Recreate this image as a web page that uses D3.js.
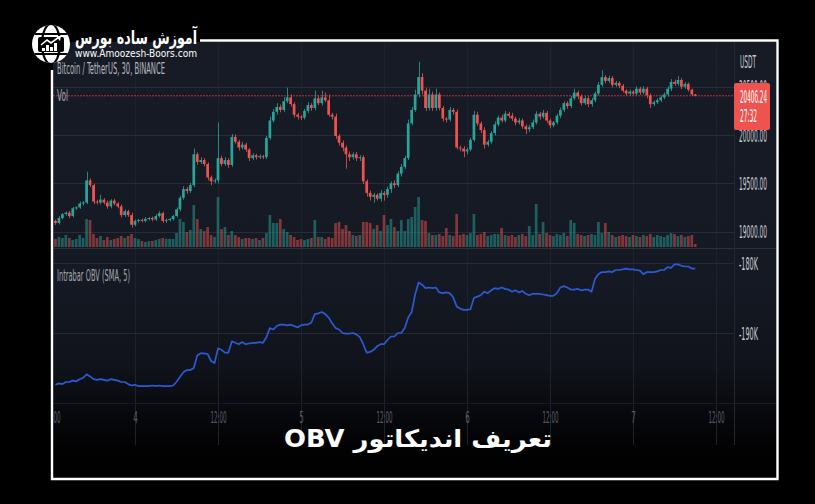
<!DOCTYPE html>
<html><head><meta charset="utf-8">
<script src="https://cdn.jsdelivr.net/npm/d3@7"></script>
<style>html,body{margin:0;padding:0;background:#000;overflow:hidden}</style>
</head><body><svg id="c" width="815" height="504"></svg>
<script>
// ---------- DATA ----------
const symbolTitle = "Bitcoin / TetherUS, 30, BINANCE";
const firstOpen = 19110;
const closes = [
19088,19140,19180,19195,19160,19240,19250,19290,19300,19530,
19480,19310,19300,19330,19300,19260,19320,19290,19260,19170,
19210,19170,19070,19110,19120,19110,19130,19140,19125,19160,
19190,19110,19120,19130,19160,19230,19350,19440,19420,19480,
19800,19720,19740,19700,19560,19520,19530,19760,19700,19740,
19690,19980,19930,19870,19900,19850,19760,19790,19770,19780,
19770,19970,20150,20240,20290,20260,20350,20390,20320,20210,
20190,20180,20250,20310,20280,20380,20330,20390,20360,20210,
20190,19990,19920,19870,19800,19770,19800,19760,19770,19520,
19400,19360,19380,19340,19400,19380,19440,19500,19480,19600,
19670,19760,20120,20260,20420,20600,20460,20280,20420,20280,
20420,20280,20170,20160,20260,20240,19870,19860,19830,19850,
19950,20210,20120,20050,19900,19930,20020,20110,20180,20150,
20220,20200,20170,20130,20150,20090,20060,20080,20130,20220,
20190,20230,20150,20100,20130,20200,20260,20330,20300,20380,
20440,20400,20330,20380,20320,20360,20430,20520,20600,20560,
20590,20520,20540,20510,20460,20430,20450,20430,20480,20440,
20480,20410,20320,20340,20360,20390,20420,20480,20550,20530,
20570,20500,20530,20470,20420,20406.24];
const upperWick = [
15,20,10,15,20,15,10,20,15,90, 20,15,20,50,15,20,15,20,15,20,
20,15,25,15,10,15,20,10,15,20, 20,15,15,10,15,20,20,30,20,25,
60,20,30,20,15,20,20,370,25,30, 20,30,25,20,30,20,15,20,15,20,
15,20,40,30,40,25,40,100,30,20, 20,15,20,30,20,80,30,70,50,60,
20,30,20,25,20,30,20,25,20,20, 20,25,20,15,30,20,25,20,30,25,
30,25,40,30,50,160,40,30,60,30, 60,20,20,15,30,20,25,20,25,20,
20,40,30,20,30,20,20,30,20,30, 30,20,30,20,25,20,20,25,30,25,
20,30,20,20,15,20,25,20,20,25, 40,20,20,25,20,25,20,30,70,20,
25,20,20,15,20,15,20,15,25,20, 25,20,20,15,20,20,20,25,30,25,
40,20,20,15,10,5];
const lowerWick = [
20,15,15,15,20,15,15,15,20,15, 20,25,20,20,20,25,20,20,20,25,
20,20,30,15,20,15,15,15,20,15, 15,20,20,15,15,15,20,20,30,20,
20,30,20,25,30,40,20,30,25,20, 30,20,20,30,20,25,30,20,25,20,
20,20,20,20,30,25,20,20,25,30, 30,25,20,20,30,25,20,25,20,20,
30,30,30,40,150,40,25,30,30,30, 40,40,60,20,30,60,30,40,30,20,
30,20,20,20,20,30,40,30,25,30, 30,25,30,30,20,30,20,30,60,30,
20,20,25,30,40,20,20,25,20,20, 20,25,25,30,20,25,50,30,20,20,
30,20,25,30,20,20,25,20,30,20, 20,30,25,20,30,25,20,20,20,25,
20,25,20,25,20,20,25,20,20,25, 20,30,40,20,20,20,20,20,25,20,
20,25,20,20,15,5];
const volumes = [
8,10,9,12,9,7,8,12,9,28, 27,13,9,11,7,10,7,8,9,11,
9,11,13,9,8,6,5,6,6,7, 8,9,8,8,8,14,28,25,15,17,
42,28,18,16,20,12,10,50,18,20, 12,16,12,10,8,9,9,8,9,7,
9,14,32,24,24,28,18,15,12,10, 7,8,7,8,9,27,10,10,8,10,
9,24,25,18,22,16,12,11,12,25, 25,24,18,22,16,32,22,28,20,16,
27,16,28,30,40,50,27,26,14,12, 12,13,11,19,12,11,33,12,13,12,
14,33,12,13,15,11,12,13,13,19, 12,11,12,10,12,13,11,21,12,43,
13,25,14,12,11,13,12,14,11,27, 24,13,12,11,12,13,12,25,14,24,
15,12,10,11,12,11,10,12,11,10, 12,11,13,10,12,11,10,12,14,13,
11,12,10,11,12,3];
const obvK = [
-197.4,-197.2,-197.3,-197.0,-197.0,-196.8,-196.9,-196.6,-196.4,-195.9,
-196.2,-196.6,-196.7,-196.6,-196.7,-196.8,-196.6,-196.7,-196.8,-197.0,
-197.0,-197.3,-197.5,-197.4,-197.6,-197.6,-197.6,-197.6,-197.5,-197.6,
-197.5,-197.6,-197.6,-197.6,-197.5,-197.0,-196.3,-195.6,-195.3,-195.3,
-195.0,-193.2,-192.9,-192.9,-193.0,-194.0,-194.3,-192.2,-192.4,-192.8,
-192.8,-191.2,-191.4,-191.6,-191.3,-191.6,-191.5,-191.4,-191.4,-191.3,
-191.4,-190.6,-189.3,-189.5,-189.0,-188.8,-188.8,-188.9,-188.8,-189.0,
-189.2,-188.9,-188.8,-188.8,-188.5,-187.3,-187.2,-187.0,-187.3,-187.8,
-188.6,-189.3,-189.5,-190.0,-190.1,-190.1,-190.0,-190.2,-190.6,-191.6,
-192.8,-192.7,-192.4,-191.9,-191.6,-191.6,-191.0,-190.5,-190.5,-190.0,
-190.0,-189.3,-187.8,-187.0,-184.5,-182.8,-183.1,-183.6,-183.5,-183.6,
-183.5,-184.2,-184.3,-184.2,-184.3,-184.9,-186.2,-186.5,-186.7,-186.7,
-186.6,-185.0,-184.8,-184.6,-184.1,-184.3,-183.9,-183.6,-183.7,-183.5,
-183.7,-183.8,-184.1,-183.9,-184.2,-184.0,-184.4,-184.6,-184.4,-184.4,
-184.4,-184.5,-184.6,-184.7,-184.7,-184.3,-183.5,-183.3,-183.5,-183.8,
-183.8,-183.7,-183.9,-183.8,-183.8,-184.1,-182.3,-181.6,-181.3,-181.3,
-181.2,-181.3,-181.0,-181.0,-180.9,-180.8,-180.9,-180.9,-181.0,-181.1,
-181.6,-181.3,-181.3,-181.3,-181.2,-181.0,-181.0,-180.6,-180.7,-180.2,
-180.2,-180.4,-180.5,-180.5,-180.8,-180.8];
const priceTicks = [19000, 19500, 20000, 20500];
const obvTicks = [-190, -180];
const timeTickLabels = ["12:00","4","12:00","5","12:00","6","12:00","7","12:00"];
const lastPrice = 20406.24;
const countdown = "27:32";
const currency = "USDT";
const volLabel = "Vol";
const obvLabel = "Intrabar OBV (SMA, 5)";
const title = "تعریف اندیکاتور OBV";
const brandName = "آموزش ساده بورس";
const brandUrl = "www.Amoozesh-Boors.com";

// ---------- SETUP ----------
const svg = d3.select("#c");
const HALF = 30*60*1000;
const t0 = Date.UTC(2022,6,3,12,0);
const bars = closes.map((c,i)=>{
  const o = i===0 ? firstOpen : closes[i-1];
  return {t:new Date(t0+(i+1)*HALF), o, c, h:Math.max(o,c)+upperWick[i], l:Math.min(o,c)-lowerWick[i], v:volumes[i], obv:obvK[i]};
});
const tickTimes = timeTickLabels.map((_,k)=>new Date(t0+k*24*HALF));

const x = d3.scaleUtc().domain([new Date(t0), new Date(t0+192*HALF)]).range([52,716]);
const y = d3.scaleLinear().domain([19000,20000]).range([231.5,135]);
const yv = d3.scaleLinear().domain([0,50]).range([247,197]);
const yo = d3.scaleLinear().domain([-190,-180]).range([333,263]);

const defs = svg.append("defs");
const g = defs.append("linearGradient").attr("id","bg").attr("x1",0).attr("y1",0).attr("x2",0).attr("y2",1);
[[0,"#171b26"],[0.55,"#151923"],[0.74,"#10131b"],[0.86,"#07080c"],[0.93,"#020203"],[1,"#000"]].forEach(s=>g.append("stop").attr("offset",s[0]).attr("stop-color",s[1]));
defs.append("clipPath").attr("id","pane").append("rect").attr("x",53).attr("y",42).attr("width",681).attr("height",361);
defs.append("clipPath").attr("id","full").append("rect").attr("x",53).attr("y",42).attr("width",723).attr("height",436);

svg.append("rect").attr("width",815).attr("height",504).attr("fill","#000");
svg.append("rect").attr("x",53).attr("y",42).attr("width",723).attr("height",436).attr("fill","url(#bg)");

const grid = svg.append("g").attr("clip-path","url(#full)");
grid.selectAll(".vg").data(tickTimes).join("line")
  .attr("x1",d=>x(d)+0.5).attr("x2",d=>x(d)+0.5).attr("y1",42).attr("y2",445)
  .attr("stroke","#1e222c").attr("stroke-width",1);
grid.selectAll(".hg").data(priceTicks).join("line")
  .attr("x1",53).attr("x2",734).attr("y1",d=>Math.round(y(d))+0.5).attr("y2",d=>Math.round(y(d))+0.5)
  .attr("stroke","#282c37");
grid.selectAll(".og").data(obvTicks).join("line")
  .attr("x1",53).attr("x2",734).attr("y1",d=>Math.round(yo(d))+0.5).attr("y2",d=>Math.round(yo(d))+0.5)
  .attr("stroke","#262a34");
grid.append("line").attr("x1",53).attr("x2",776).attr("y1",248.5).attr("y2",248.5).attr("stroke","#2c303b");
grid.append("line").attr("x1",53).attr("x2",776).attr("y1",403.5).attr("y2",403.5).attr("stroke","#181b23");
grid.append("line").attr("x1",734.5).attr("x2",734.5).attr("y1",42).attr("y2",445).attr("stroke","#22262f");

const UP="#26a69a", DN="#ef5350";
const pane = svg.append("g").attr("clip-path","url(#pane)");
const bw = 2.7;
pane.selectAll(".vol").data(bars).join("rect")
  .attr("x",d=>x(d.t)-bw/2).attr("width",bw)
  .attr("y",d=>yv(d.v)).attr("height",d=>yv(0)-yv(d.v))
  .attr("fill",d=>d.c>=d.o?UP:DN).attr("fill-opacity",0.5);
pane.append("line").attr("x1",53).attr("x2",734).attr("y1",y(lastPrice)).attr("y2",y(lastPrice))
  .attr("stroke","#b8323c").attr("stroke-width",1).attr("stroke-dasharray","2,1");
pane.selectAll(".wick").data(bars).join("line")
  .attr("x1",d=>Math.round(x(d.t))+0.5).attr("x2",d=>Math.round(x(d.t))+0.5)
  .attr("y1",d=>y(d.h)).attr("y2",d=>y(d.l))
  .attr("stroke",d=>d.c>=d.o?UP:DN).attr("stroke-width",0.8);
pane.selectAll(".body").data(bars).join("rect")
  .attr("x",d=>x(d.t)-bw/2).attr("width",bw)
  .attr("y",d=>y(Math.max(d.o,d.c))).attr("height",d=>Math.max(1,Math.abs(y(d.o)-y(d.c))))
  .attr("fill",d=>d.c>=d.o?UP:DN);

const line = d3.line().x(d=>x(d.t)).y(d=>yo(d.obv)).curve(d3.curveLinear);
pane.append("path").datum(bars).attr("d",line).attr("fill","none")
  .attr("stroke","#2b5bd4").attr("stroke-width",1.7).attr("stroke-linejoin","round");

// ---------- TEXT ----------
const NARROW = "'Liberation Sans Narrow','DejaVu Sans Condensed','Roboto',sans-serif";
function txt(sel, s, xx, yy, size, len, fill, anchor){
  return sel.append("text").attr("x",xx).attr("y",yy).attr("font-family",NARROW).attr("font-size",size)
    .attr("fill",fill).attr("text-anchor",anchor||"start").attr("textLength",len).attr("lengthAdjust","spacingAndGlyphs").text(s);
}
txt(svg, symbolTitle, 57, 74, 15, 108, "#b4b7bf");
txt(svg, volLabel, 57, 101, 16, 11, "#a9acb4");
txt(svg, obvLabel, 57, 281, 16, 73, "#a3a6ae");

// price axis
const pa = svg.append("g").attr("transform","translate(739,0)")
  .call(d3.axisRight(y).tickValues(priceTicks).tickFormat(d3.format(".2f")).tickSize(0).tickPadding(0));
pa.select(".domain").remove();
pa.selectAll("text").attr("font-family",NARROW).attr("font-size",17).attr("fill","#c9ccd3")
  .attr("textLength",28).attr("lengthAdjust","spacingAndGlyphs").attr("dy","0.36em");
const oa = svg.append("g").attr("transform","translate(739,0)")
  .call(d3.axisRight(yo).tickValues(obvTicks).tickFormat(d=>`${d}K`).tickSize(0).tickPadding(0));
oa.select(".domain").remove();
oa.selectAll("text").attr("font-family",NARROW).attr("font-size",17).attr("fill","#c9ccd3")
  .attr("textLength",19).attr("lengthAdjust","spacingAndGlyphs").attr("dy","0.36em");
txt(svg, currency, 740, 68, 17, 16, "#c9ccd3");

// time axis
const taWrap = svg.append("g").attr("clip-path","url(#full)");
const ta = taWrap.append("g").attr("transform","translate(0,414)")
  .call(d3.axisBottom(x).tickValues(tickTimes).tickFormat((d,i)=>timeTickLabels[i]).tickSize(0).tickPadding(0));
ta.select(".domain").remove();
ta.selectAll("text").attr("font-family",NARROW).attr("font-size",16).attr("fill","#5a5d67")
  .attr("textLength",(d,i)=>timeTickLabels[i].length>2?16:4.5).attr("lengthAdjust","spacingAndGlyphs").attr("dy","0.55em");

// last price tag
svg.append("rect").attr("x",734).attr("y",83).attr("width",36).attr("height",47).attr("rx",2).attr("fill","#ef5350");
txt(svg, d3.format(".2f")(lastPrice), 740, 103, 17, 27, "#ffffff");
txt(svg, countdown, 740, 122, 17, 17, "#ffffff");

// frame
svg.append("path").attr("d","M200,40.5 H777.5 V479 H52 V70").attr("fill","none").attr("stroke","#ffffff").attr("stroke-width",2.4);

// logo
const logo = svg.append("g");
defs.append("clipPath").attr("id","globe").append("circle").attr("cx",51).attr("cy",44).attr("r",19);
logo.append("circle").attr("cx",51).attr("cy",44).attr("r",19).attr("fill","#fff");
const lg = logo.append("g").attr("clip-path","url(#globe)");
lg.append("ellipse").attr("cx",51).attr("cy",44).attr("rx",9).attr("ry",20).attr("fill","none").attr("stroke","#000").attr("stroke-width",2.2);
lg.append("line").attr("x1",30).attr("x2",72).attr("y1",34).attr("y2",34).attr("stroke","#000").attr("stroke-width",2);
lg.append("line").attr("x1",30).attr("x2",72).attr("y1",54).attr("y2",54).attr("stroke","#000").attr("stroke-width",2);
lg.append("rect").attr("x",38).attr("y",37).attr("width",26).attr("height",15).attr("rx",2).attr("fill","#000");
[[42,48,3],[46,45,3],[50,47,3],[54,43,3]].forEach(b=>lg.append("rect").attr("x",b[0]).attr("y",b[1]).attr("width",b[2]).attr("height",51-b[1]).attr("fill","#fff"));
lg.append("path").attr("d","M41,45 L47,40 L51,43 L59,37").attr("fill","none").attr("stroke","#fff").attr("stroke-width",1.6);
lg.append("path").attr("d","M56,36 L61,36 L60,41 Z").attr("fill","#fff");

svg.append("text").attr("x",136).attr("y",44).attr("font-family","'DejaVu Sans',sans-serif").attr("font-weight","bold")
  .attr("font-size",19).attr("fill","#fff").attr("text-anchor","middle").attr("direction","rtl")
  .attr("textLength",122).attr("lengthAdjust","spacingAndGlyphs").text(brandName);
svg.append("text").attr("x",75).attr("y",57).attr("font-family","'DejaVu Sans','Liberation Sans',sans-serif")
  .attr("font-size",11).attr("fill","#fff").attr("textLength",122).attr("lengthAdjust","spacingAndGlyphs").text(brandUrl);

// title
svg.append("text").attr("x",418).attr("y",447).attr("font-family","'DejaVu Sans',sans-serif").attr("font-weight","bold")
  .attr("font-size",24).attr("fill","#fff").attr("text-anchor","middle").attr("direction","rtl")
  .attr("textLength",268).attr("lengthAdjust","spacingAndGlyphs").text(title);
</script></body></html>
